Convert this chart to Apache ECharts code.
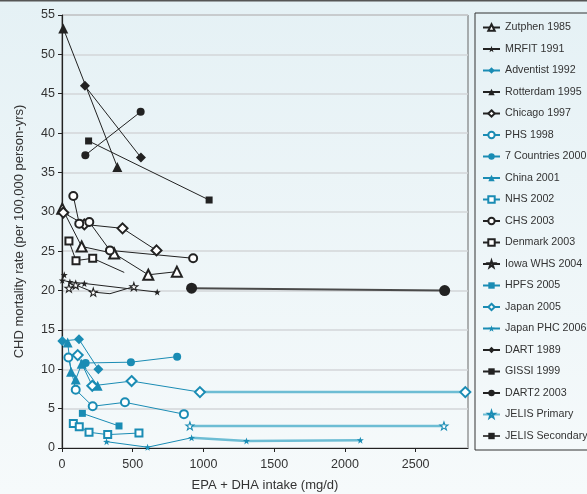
<!DOCTYPE html>
<html>
<head>
<meta charset="utf-8">
<script src="https://cdn.jsdelivr.net/npm/echarts@6/dist/echarts.min.js"></script>
<style>
  html, body { margin: 0; padding: 0; }
  #chart { width: 587px; height: 494px; }
</style>
</head>
<body>
<div id="chart"></div>
<script>
// study data, [EPA+DHA mg/d, CHD mortality per 100,000 person-yrs]
const zutphen = [[2, 30.4], [139, 25.6], [369, 24.7], [610, 22.0], [812, 22.4]];
const mrfit = [[16, 22.0], [2, 21.3], [56, 21.1], [158, 20.9], [673, 19.8]];
const adventist = [[2, 13.6], [120, 13.8], [257, 10.0]];
const rotterdam = [[9, 53.3], [391, 35.7]];
const chicago = [[9, 29.9], [158, 28.4], [428, 27.9], [668, 25.1]];
const phs = [[45, 11.5], [97, 7.4], [217, 5.3], [445, 5.8], [862, 4.3]];
const sevenCountries = [[167, 10.8], [487, 10.9], [814, 11.6]];
const china = [[40, 13.4], [64, 9.7], [97, 8.7], [139, 10.7], [252, 7.9]];
const nhs = [[80, 3.1], [122, 2.7], [191, 2.0], [323, 1.7], [544, 1.9]];
const chs = [[80, 32.0], [122, 28.5], [193, 28.7], [339, 25.1], [927, 24.1]];
const denmark = [[49, 26.3], [99, 23.8], [217, 24.1], [440, 22.3]];
const iowa = [[49, 20.3], [97, 20.7], [221, 19.8], [339, 19.6], [508, 20.5]];
const hpfs = [[144, 4.4], [403, 2.8]];
const japan2005 = [[111, 11.8], [214, 7.9], [492, 8.5], [975, 7.1], [2851, 7.1]];
const japanPhc = [[315, 0.8], [605, 0.1], [916, 1.3], [1304, 0.9], [2109, 1.0]];
const dart = [[162, 46.0], [558, 36.9]];
const gissi = [[188, 39.0], [1040, 31.5]];
const dart2 = [[165, 37.2], [556, 42.7]];
const jelisPrimary = [[904, 2.8], [2700, 2.8]];
const jelisSecondary = [[916, 20.3], [2705, 20.0]];

const legendNames = ['Zutphen 1985', 'MRFIT 1991', 'Adventist 1992', 'Rotterdam 1995',
  'Chicago 1997', 'PHS 1998', '7 Countries 2000', 'China 2001', 'NHS 2002', 'CHS 2003',
  'Denmark 2003', 'Iowa WHS 2004', 'HPFS 2005', 'Japan 2005', 'Japan PHC 2006',
  'DART 1989', 'GISSI 1999', 'DART2 2003', 'JELIS Primary', 'JELIS Secondary'];

const xTicks = [0, 500, 1000, 1500, 2000, 2500];

const BLACK = '#222';
const TEAL = '#1a8cb4';
const LIGHT_TEAL = '#6dbdd4';
const STAR = 'path://M0,-10 L2.35,-3.24 L9.51,-3.09 L3.8,1.24 L5.88,8.09 L0,4 L-5.88,8.09 L-3.8,1.24 L-9.51,-3.09 L-2.35,-3.24 Z';

// points drawn without a marker (line bends)
const noMark = (arr, idx) => arr.map((p, i) => idx.includes(i) ? { value: p, symbol: 'none' } : p);

const mk = (name, data, color, symbol, opts = {}) => {
  const open = opts.open;
  return {
    name: name,
    type: 'line',
    data: data,
    symbol: symbol,
    symbolSize: opts.size || 8,
    showAllSymbol: true,
    clip: false,
    z: opts.z || 3,
    lineStyle: { color: opts.lineColor || color, width: opts.width || 1 },
    itemStyle: open
      ? { color: '#fff', borderColor: color, borderWidth: 1.1 }
      : { color: color, borderColor: color, borderWidth: symbol.startsWith('empty') ? 1.1 : 0 },
    emphasis: { disabled: true },
    animation: false
  };
};

const chart = echarts.init(document.getElementById('chart'));

const series = [
  // thick extension lines, drawn underneath
  mk('ext1', noMark(japan2005.slice(3), [0]), TEAL, 'emptyDiamond', { lineColor: LIGHT_TEAL, width: 2.5, size: 10, z: 2 }),
  mk('ext2', noMark(japanPhc.slice(2), [0]), TEAL, STAR, { lineColor: LIGHT_TEAL, width: 2.5, size: 7, z: 2 }),

  mk('Zutphen 1985', zutphen, BLACK, 'emptyTriangle', { size: 10 }),
  mk('MRFIT 1991', mrfit, BLACK, STAR, { size: 7 }),
  mk('Adventist 1992', adventist, TEAL, 'diamond', { size: 10 }),
  mk('Rotterdam 1995', rotterdam, BLACK, 'triangle', { size: 10 }),
  mk('Chicago 1997', chicago, BLACK, 'emptyDiamond', { size: 10 }),
  mk('PHS 1998', phs, TEAL, 'emptyCircle'),
  mk('7 Countries 2000', sevenCountries, TEAL, 'circle'),
  mk('China 2001', china, TEAL, 'triangle', { size: 10 }),
  mk('NHS 2002', nhs, TEAL, 'emptyRect', { size: 7 }),
  mk('CHS 2003', chs, BLACK, 'emptyCircle'),
  mk('Denmark 2003', noMark(denmark, [3]), BLACK, 'emptyRect', { size: 7 }),
  mk('Iowa WHS 2004', noMark(iowa, [3]), BLACK, STAR, { size: 8, open: true }),
  mk('HPFS 2005', hpfs, TEAL, 'rect', { size: 7 }),
  mk('Japan 2005', japan2005.slice(0, 4), TEAL, 'emptyDiamond', { size: 10 }),
  mk('Japan PHC 2006', japanPhc.slice(0, 3), TEAL, STAR, { size: 7 }),
  mk('DART 1989', dart, BLACK, 'diamond', { size: 10 }),
  mk('GISSI 1999', gissi, BLACK, 'rect', { size: 7 }),
  mk('DART2 2003', dart2, BLACK, 'circle'),
  mk('JELIS Primary', jelisPrimary, TEAL, STAR, { size: 8, open: true, lineColor: LIGHT_TEAL, width: 2.5 }),
  mk('JELIS Secondary', jelisSecondary.map(p => ({ value: p, symbol: 'circle', symbolSize: 11 })), BLACK, 'rect',
    { size: 7, lineColor: '#4a4a4a', width: 2 })
];

chart.setOption({
  backgroundColor: {
    type: 'linear', x: 0, y: 0, x2: 0, y2: 1,
    colorStops: [{ offset: 0, color: '#e5f1f5' }, { offset: 1, color: '#f6fafb' }]
  },
  textStyle: { fontFamily: 'Liberation Sans, Arial, sans-serif' },
  grid: {
    left: 62, right: 119, top: 15, bottom: 46,
    outerBoundsMode: 'none',
    show: true, borderColor: '#666', borderWidth: 1, backgroundColor: 'transparent'
  },
  xAxis: {
    type: 'value',
    min: 0, max: 2870, interval: 500,
    name: 'EPA + DHA intake (mg/d)',
    nameLocation: 'middle', nameGap: 31,
    nameTextStyle: { fontSize: 13, color: '#333' },
    axisLine: { lineStyle: { color: '#222', width: 1.2 } },
    axisTick: { length: 4, lineStyle: { color: '#222' } },
    axisLabel: {
      fontSize: 12.5, color: '#333', margin: 10, showMaxLabel: false,
      formatter: v => xTicks.includes(v) ? String(v) : ''
    },
    splitLine: { show: false }
  },
  yAxis: {
    type: 'value',
    min: 0, max: 55, interval: 5,
    name: 'CHD mortality rate (per 100,000 person-yrs)',
    nameLocation: 'middle', nameGap: 36,
    nameTextStyle: { fontSize: 13, color: '#333' },
    axisLine: { show: true, lineStyle: { color: '#222', width: 1.2 } },
    axisTick: { show: true, length: 4, lineStyle: { color: '#222' } },
    axisLabel: { fontSize: 12.5, color: '#333', margin: 7 },
    splitLine: { lineStyle: { color: '#d3d6d8', width: 1.5 } }
  },
  legend: {
    data: legendNames,
    orient: 'vertical',
    left: 477, top: 17,
    padding: 5,
    itemWidth: 17, itemHeight: 8, itemGap: 10.5,
    textStyle: { fontSize: 10.7, color: '#333' },
    selectedMode: false
  },
  graphic: [
    { type: 'rect', shape: { x: 475, y: 13, width: 140, height: 437 },
      style: { fill: 'none', stroke: '#333', lineWidth: 1 } },
    { type: 'rect', shape: { x: 0, y: 0, width: 587, height: 1.5 },
      style: { fill: '#555' } }
  ],
  series: series
});
</script>
</body>
</html>
